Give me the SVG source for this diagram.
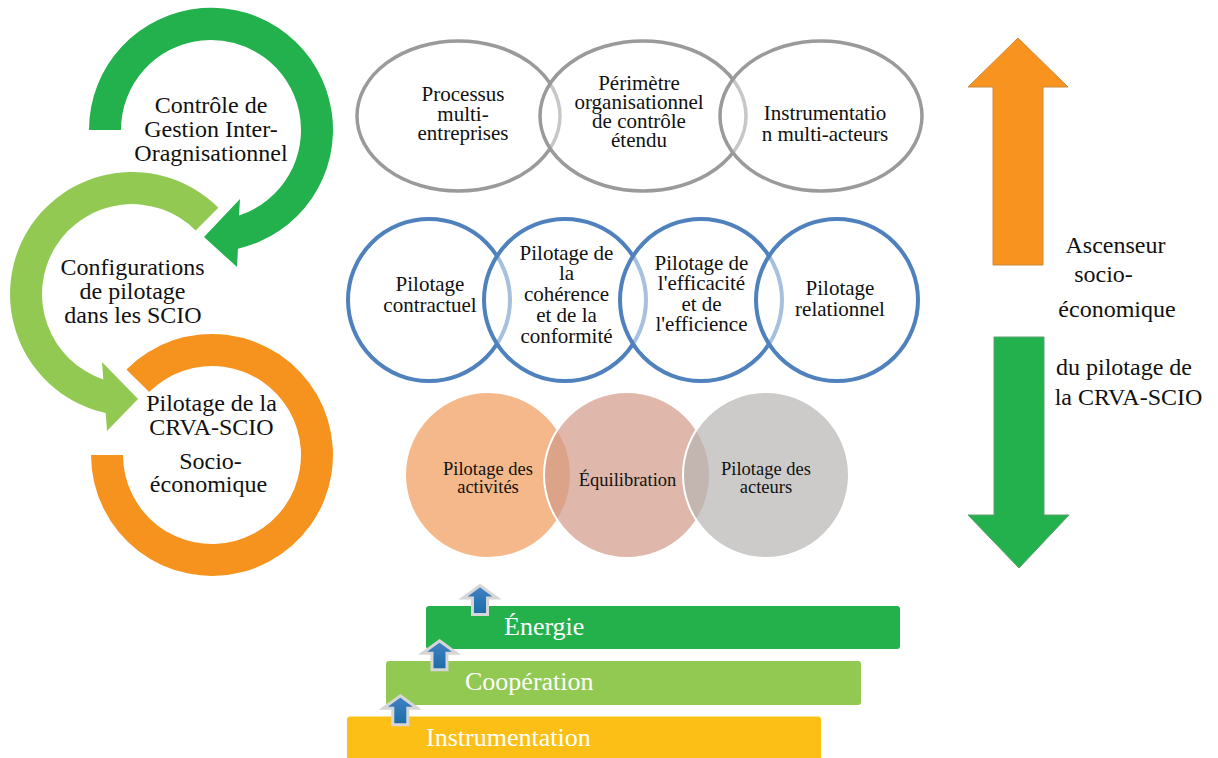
<svg xmlns="http://www.w3.org/2000/svg" width="1218" height="758" viewBox="0 0 1218 758">
<defs>
<linearGradient id="blueGrad" x1="0" y1="0" x2="0" y2="1">
<stop offset="0" stop-color="#4383C6"/>
<stop offset="1" stop-color="#1A6CA6"/>
</linearGradient>
<path id="upArrow" d="M0,0 L17,12.5 L7.5,12.5 L7.5,29 L-7.5,29 L-7.5,12.5 L-17,12.5 Z"/>
<style>
text { font-family: "Liberation Serif", "Times New Roman", serif; fill: #111111; text-anchor: middle; }
.t24 { font-size: 24px; }
.t21 { font-size: 21px; }
.t18 { font-size: 18.5px; }
.bart { font-size: 26px; fill: #ffffff; text-anchor: start; }
.rt { font-size: 24px; }
.ell { fill: #ffffff; fill-opacity: 0.45; stroke: #9A9A9A; stroke-width: 3.5; }
.blue { fill: #ffffff; fill-opacity: 0.5; stroke: #4F81BD; stroke-width: 4; }
.venn { stroke: #ffffff; stroke-width: 2; }
.sarrow { fill: url(#blueGrad); stroke: #D6D6D6; stroke-width: 3; }
</style>
</defs>
<rect x="0" y="0" width="1218" height="758" fill="#ffffff"/>

<!-- Left cycle -->
<g id="ring-orange">
<path d="M126.4,369.4 A121,121 0 1 1 91,455 L123,455 A89,89 0 1 0 149.1,392.1 Z" fill="#F6921E"/>
<text class="t24" x="211.5" y="410.5">Pilotage de la</text>
<text class="t24" x="211.5" y="435">CRVA-SCIO</text>
<text class="t24" x="210.5" y="468.5">Socio-</text>
<text class="t24" x="208.5" y="491.5">économique</text>
</g>
<g id="ring-lightgreen">
<path d="M218.3,207.7 A122,122 0 1 0 105.7,413.1 L107,431 L138,399 L102,362 L103.3,379.4 A90,90 0 1 1 195.6,230.4 Z" fill="#92C953"/>
<text class="t24" x="132.5" y="275">Configurations</text>
<text class="t24" x="132.5" y="299">de pilotage</text>
<text class="t24" x="133" y="323">dans les SCIO</text>
</g>
<g id="ring-green">
<path d="M89,130 A122,122 0 1 1 238,248.7 L237,267 L204,237 L240,199 L239,215.5 A90,90 0 1 0 121,130 Z" fill="#23B14D"/>
<text class="t24" x="211" y="113">Contrôle de</text>
<text class="t24" x="211" y="137">Gestion Inter-</text>
<text class="t24" x="211" y="161">Oragnisationnel</text>
</g>

<!-- Top grey ellipses -->
<g id="ellipse-processus">
<ellipse class="ell" cx="458.5" cy="116" rx="101.5" ry="75"/>
<text class="t21" x="463" y="101">Processus</text>
<text class="t21" x="463" y="120.5">multi-</text>
<text class="t21" x="463" y="140">entreprises</text>
</g>
<g id="ellipse-perimetre">
<ellipse class="ell" cx="643" cy="116" rx="103" ry="75"/>
<text class="t21" x="639" y="89.5">Périmètre</text>
<text class="t21" x="639" y="108.5">organisationnel</text>
<text class="t21" x="639" y="127.5">de contrôle</text>
<text class="t21" x="639" y="146.5">étendu</text>
</g>
<g id="ellipse-instrumentation">
<ellipse class="ell" cx="821" cy="116" rx="101" ry="75"/>
<text class="t21" x="825" y="120">Instrumentatio</text>
<text class="t21" x="825" y="140.5">n multi-acteurs</text>
</g>

<!-- Blue circles -->
<g id="circle-contractuel">
<circle class="blue" cx="429" cy="300" r="81"/>
<text class="t21" x="430" y="291">Pilotage</text>
<text class="t21" x="430" y="311.5">contractuel</text>
</g>
<g id="circle-coherence">
<circle class="blue" cx="565" cy="300" r="81"/>
<text class="t21" x="566.5" y="259.5">Pilotage de</text>
<text class="t21" x="566.5" y="280">la</text>
<text class="t21" x="566.5" y="301">cohérence</text>
<text class="t21" x="566.5" y="321.5">et de la</text>
<text class="t21" x="566.5" y="342.5">conformité</text>
</g>
<g id="circle-efficacite">
<circle class="blue" cx="701" cy="300" r="81"/>
<text class="t21" x="701.5" y="269.5">Pilotage de</text>
<text class="t21" x="701.5" y="290">l'efficacité</text>
<text class="t21" x="701.5" y="310.5">et de</text>
<text class="t21" x="701.5" y="331">l'efficience</text>
</g>
<g id="circle-relationnel">
<circle class="blue" cx="837" cy="300" r="81"/>
<text class="t21" x="840" y="294.5">Pilotage</text>
<text class="t21" x="840" y="315.5">relationnel</text>
</g>

<!-- Bottom Venn -->
<g id="venn-activites">
<circle class="venn" cx="488" cy="475" r="83" fill="#F5B88A"/>
<text class="t18" x="488" y="475">Pilotage des</text>
<text class="t18" x="488" y="493">activités</text>
</g>
<g id="venn-equilibration">
<circle class="venn" cx="627" cy="475" r="83" fill="#D19A87" fill-opacity="0.7"/>
<text class="t18" x="627.5" y="486">Équilibration</text>
</g>
<g id="venn-acteurs">
<circle class="venn" cx="766" cy="475" r="83" fill="#B6B5B3" fill-opacity="0.7"/>
<text class="t18" x="766" y="475">Pilotage des</text>
<text class="t18" x="766" y="493">acteurs</text>
</g>

<!-- Bars -->
<g id="bar-instrumentation">
<rect x="347" y="716.5" width="474" height="50" rx="3" fill="#FBBF16"/>
<text class="bart" x="426" y="745.5">Instrumentation</text>
</g>
<g id="bar-cooperation">
<rect x="386" y="661" width="475" height="44" rx="3" fill="#92C953"/>
<text class="bart" x="465" y="690">Coopération</text>
</g>
<g id="bar-energie">
<rect x="426" y="606" width="474" height="43" rx="3" fill="#24B14C"/>
<text class="bart" x="504" y="635">Énergie</text>
</g>

<!-- Right vertical arrows and label -->
<g id="arrow-up-orange">
<polygon points="1018,38 1068,87 1043,87 1043,265 993,265 993,87 968,87" fill="#F7931E" stroke="#C98A3E" stroke-width="1"/>
</g>
<g id="arrow-down-green">
<polygon points="994,337 1044,337 1044,515 1069,515 1019,568 968,515 994,515" fill="#22B14C" stroke="#5E9E6E" stroke-width="1"/>
</g>
<g id="label-ascenseur">
<text class="rt" x="1115.5" y="253">Ascenseur</text>
<text class="rt" x="1103.5" y="282">socio-</text>
<text class="rt" x="1117" y="317">économique</text>
<text class="rt" x="1124" y="375">du pilotage de</text>
<text class="rt" x="1128.5" y="405">la CRVA-SCIO</text>
</g>

<!-- Connectors: small blue step arrows -->
<g id="connectors">
<use href="#upArrow" class="sarrow" x="480" y="585.5"/>
<use href="#upArrow" class="sarrow" x="439.5" y="640.8"/>
<use href="#upArrow" class="sarrow" x="400.3" y="695.8"/>
</g>
</svg>
